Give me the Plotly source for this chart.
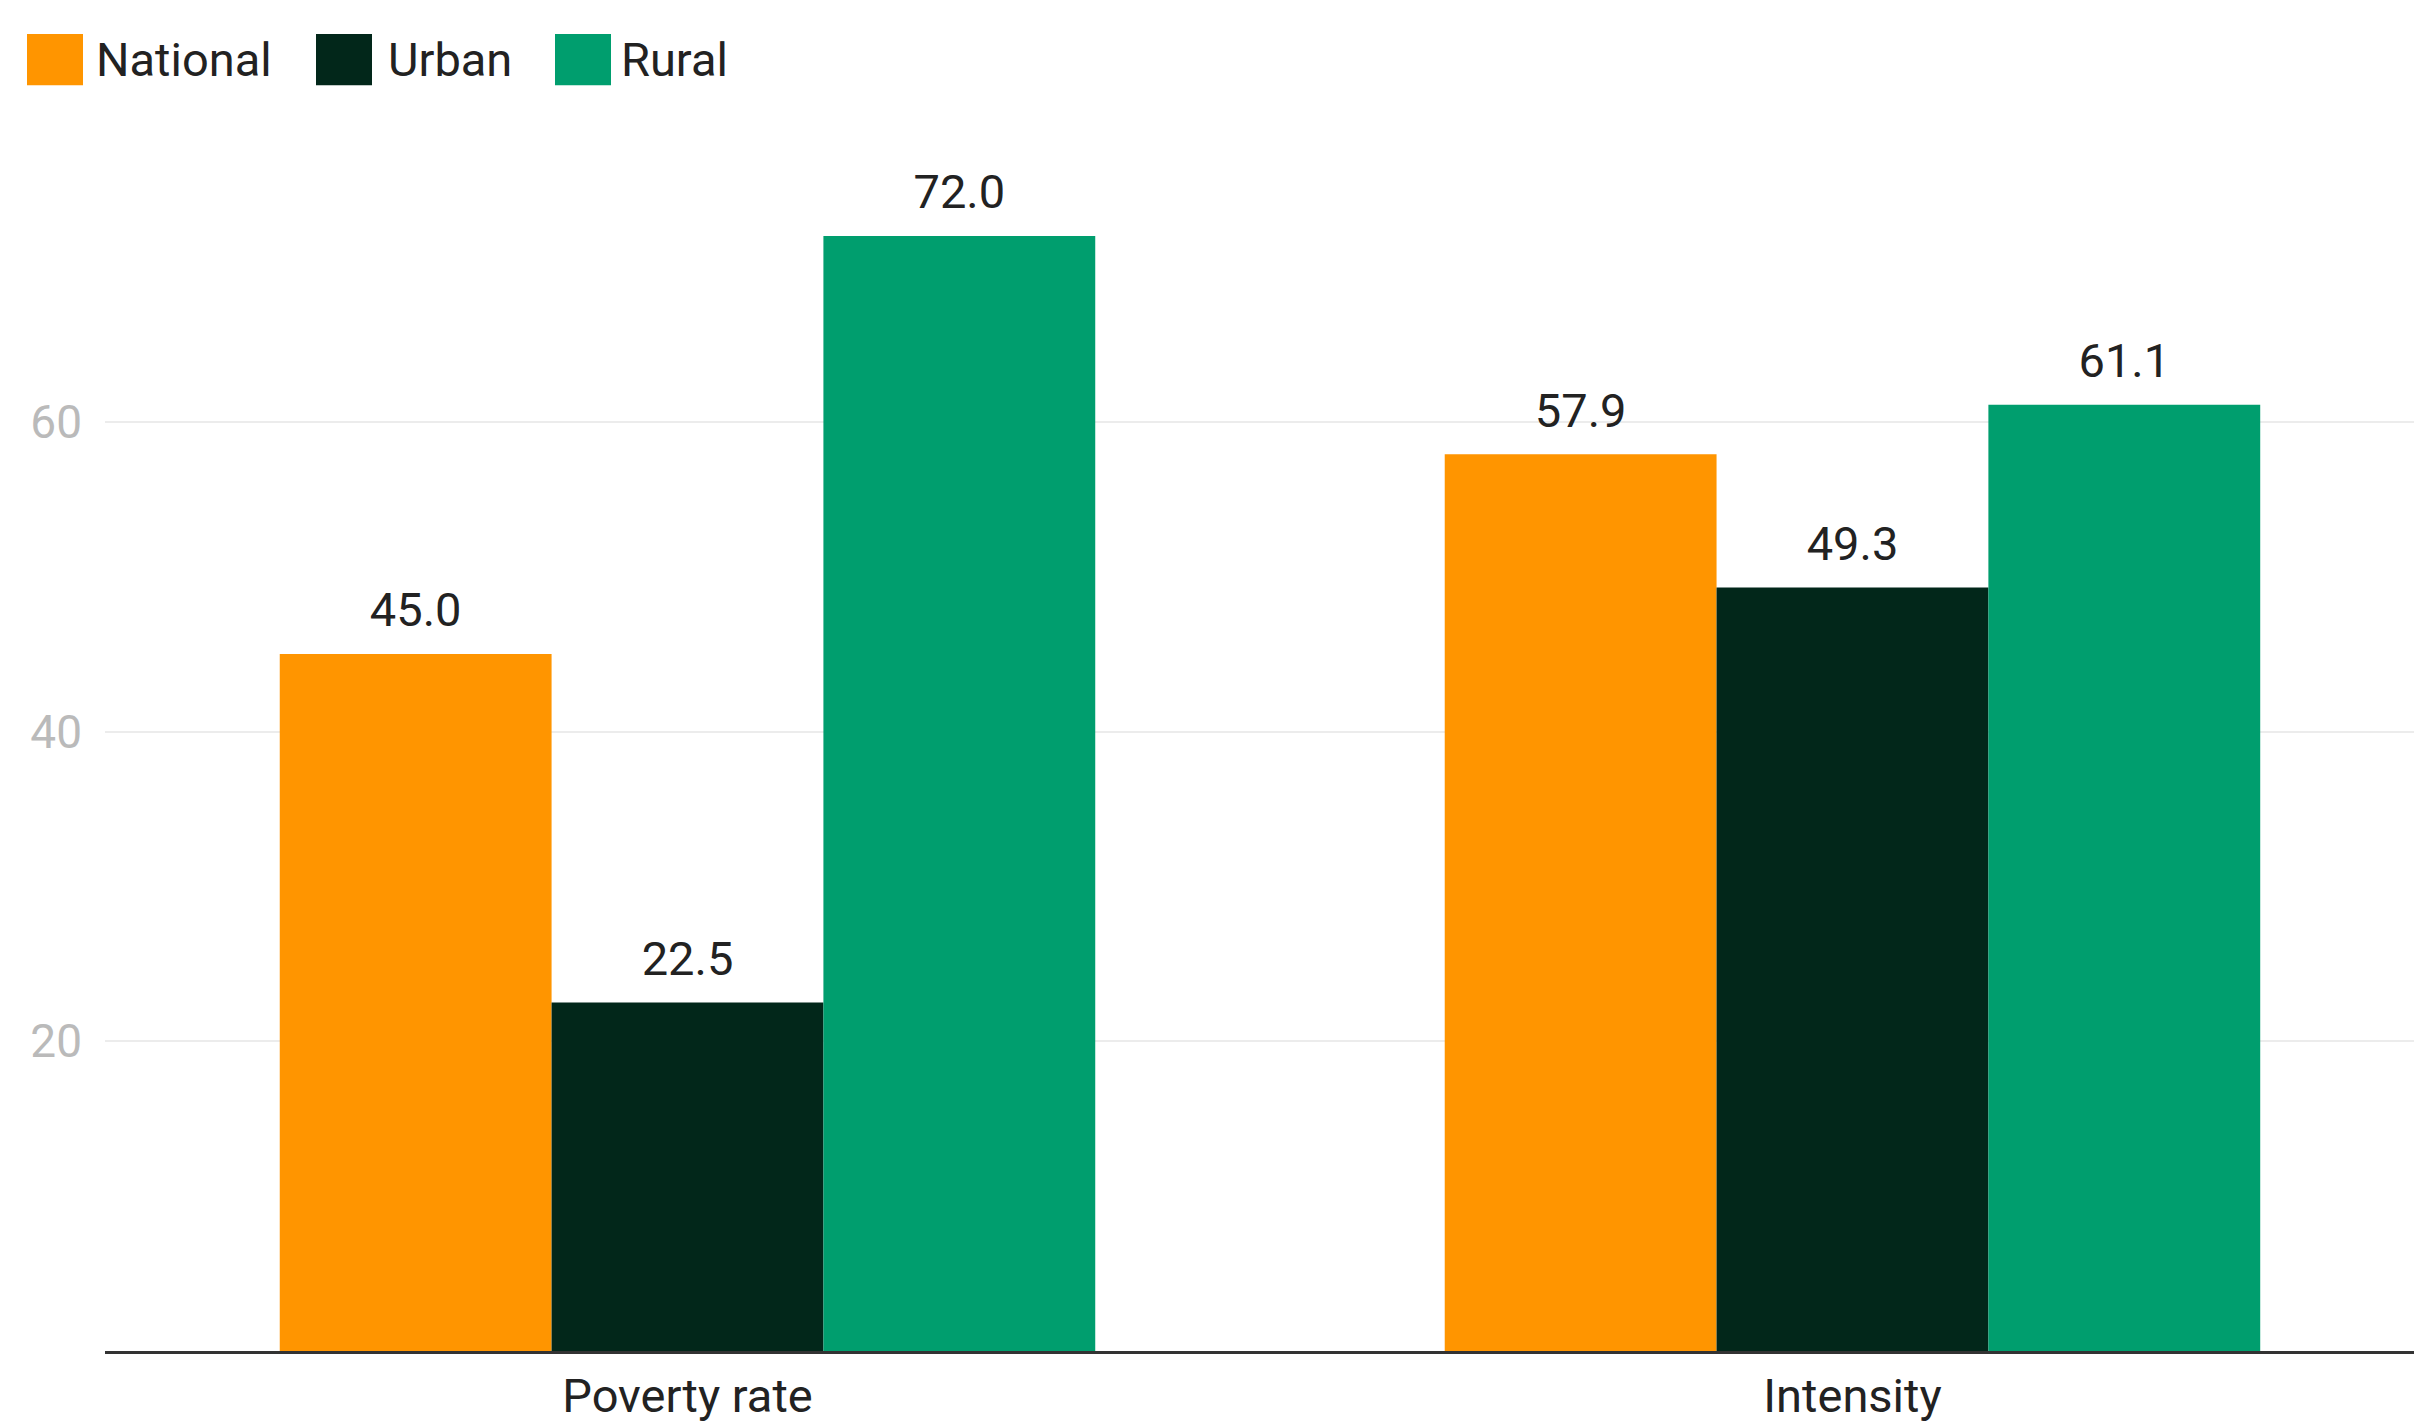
import plotly.graph_objects as go

# ---- data ----
categories = ["Poverty rate", "Intensity"]
series_names = ["National", "Urban", "Rural"]
national = [45.0, 57.9]
urban = [22.5, 49.3]
rural = [72.0, 61.1]
y_ticks = [20, 40, 60]

# ---- style ----
colors = ["#ff9500", "#02271a", "#009e6e"]
FONT = "Roboto"
W, H = 2414, 1423
ML, MR, MT, MB = 105, 0, 112, 56
PW, PH = W - ML - MR, H - MT - MB
GAP = 0.3

fig = go.Figure()
for name, vals, col in zip(series_names, [national, urban, rural], colors):
    fig.add_trace(go.Bar(
        x=categories, y=vals, name=name, marker=dict(color=col, line=dict(width=0)),
        offsetgroup=name, showlegend=False, hoverinfo="skip",
    ))
# value labels, grouped the same way as the bars
for name, vals in zip(series_names, [national, urban, rural]):
    fig.add_trace(go.Scatter(
        x=categories, y=vals, mode="markers+text", offsetgroup=name,
        text=[f"{v:.1f}" for v in vals], textposition="top center",
        marker=dict(size=24, color="rgba(0,0,0,0)"),
        textfont=dict(family=FONT, size=47, color="#222222"),
        cliponaxis=False, showlegend=False, hoverinfo="skip",
    ))

# custom legend (large squares) built from the series names and colours
legend_sq_x = [27, 316, 555]
legend_txt_x = [94, 386, 619]
sq_w, sq_top, sq_bot = 56, 33, 85


def px_x(px):
    return (px - ML) / PW


def px_y(py):
    return (H - MB - py) / PH


for name, col, sx, tx in zip(series_names, colors, legend_sq_x, legend_txt_x):
    fig.add_shape(type="rect", xref="paper", yref="paper",
                  x0=px_x(sx), x1=px_x(sx + sq_w), y0=px_y(sq_bot), y1=px_y(sq_top),
                  fillcolor=col, line=dict(width=0), layer="above")
    fig.add_annotation(xref="paper", yref="paper", x=px_x(tx), y=px_y((sq_top + sq_bot) / 2),
                       text=name, showarrow=False, xanchor="left", yanchor="middle",
                       font=dict(family=FONT, size=47, color="#222222"))

fig.update_layout(
    width=W, height=H,
    margin=dict(l=ML, r=MR, t=MT, b=MB, pad=0),
    barmode="group", bargap=GAP, bargroupgap=0,
    scattermode="group", scattergap=GAP,
    plot_bgcolor="white", paper_bgcolor="white",
    font=dict(family=FONT, size=46, color="#222222"),
    showlegend=False,
    xaxis=dict(type="category", range=[-0.5, 1.482], showgrid=False,
               showline=True, linecolor="#333333", linewidth=3, ticks="",
               tickfont=dict(family=FONT, size=47, color="#222222"),
               ticklabelstandoff=2, zeroline=False),
    yaxis=dict(range=[0, 80], tickvals=y_ticks, showgrid=True, gridcolor="#ececec",
               gridwidth=2, zeroline=False, showline=False, ticks="",
               tickfont=dict(family=FONT, size=46, color="#bababa"),
               ticklabelstandoff=22),
)

fig.write_html("out.html")
